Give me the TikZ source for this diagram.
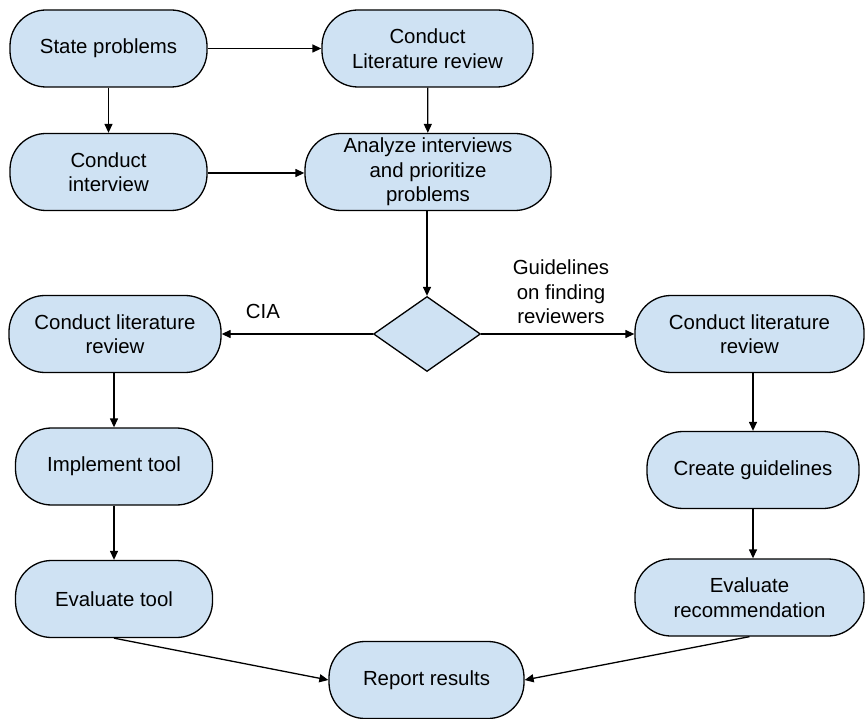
\documentclass[tikz,border=0pt]{standalone}
\usepackage{fontspec}
\setmainfont{Liberation Sans}
\usetikzlibrary{arrows.meta,shapes.geometric}
\definecolor{boxblue}{HTML}{CFE2F3}
\begin{document}
\begin{tikzpicture}[x=1pt,y=-1pt,
  flowbox/.style={draw=black, line width=1.3pt, fill=boxblue, rounded corners=36pt,
    minimum height=77pt, align=center, inner sep=0pt,
    font=\fontsize{20.4}{24.5}\selectfont},
  decision/.style={draw=black, line width=1.3pt, fill=boxblue, diamond,
    minimum width=107pt, minimum height=75pt, inner sep=0pt},
  arr/.style={-{Triangle[length=9pt,width=8pt]}, line width=1.3pt},
  lbl/.style={align=center, font=\fontsize{20.4}{24.5}\selectfont}]
\useasboundingbox (0,0) rectangle (865,719);

% top part: problem statement and interviews
\node[flowbox, minimum width=197pt] (state) at (108.5,48.5) {State problems};
\node[flowbox, minimum width=211pt] (litA) at (427.5,48.5) {Conduct\\Literature review};
\node[flowbox, minimum width=197pt] (interview) at (108.5,172) {Conduct\\interview};
\node[flowbox, minimum width=246pt] (analyze) at (428,172) {Analyze interviews\\and prioritize\\problems};
\node[decision] (dec) at (427,334) {};

% left branch
\node[flowbox, minimum width=212pt] (litL) at (115,334) {Conduct literature\\review};
\node[flowbox, minimum width=197pt] (impl) at (114,466.5) {Implement tool};
\node[flowbox, minimum width=197pt] (evtool) at (114,599) {Evaluate tool};

% right branch
\node[flowbox, minimum width=229pt] (litR) at (749.5,334) {Conduct literature\\review};
\node[flowbox, minimum width=212pt] (guide) at (753,470) {Create guidelines};
\node[flowbox, minimum width=229pt] (evrec) at (749.5,597.5) {Evaluate\\recommendation};

% final step
\node[flowbox, minimum width=195pt] (report) at (426.5,680) {Report results};

% branch labels
\node[lbl] (cia) at (263,311) {CIA};
\node[lbl] (guidelbl) at (561,292) {Guidelines\\on finding\\reviewers};

% connectors
\draw[arr] (state) -- (litA);
\draw[arr] (state) -- (interview);
\draw[arr] (litA) -- (analyze);
\draw[arr] (interview.east |- 0,173) -- (analyze.west |- 0,173);
\draw[arr] (analyze.south -| dec.north) -- (dec.north);
\draw[arr] (dec.west) -- (litL.east);
\draw[arr] (dec.east) -- (litR.west);
\draw[arr] (litL.south -| impl.north) -- (impl.north);
\draw[arr] (impl) -- (evtool);
\draw[arr] (litR.south -| guide.north) -- (guide.north);
\draw[arr] (guide.south) -- (guide.south |- evrec.north);
\draw[arr] (evtool.south) -- (report.west);
\draw[arr] (evrec.south) -- (report.east);
\end{tikzpicture}
\end{document}
